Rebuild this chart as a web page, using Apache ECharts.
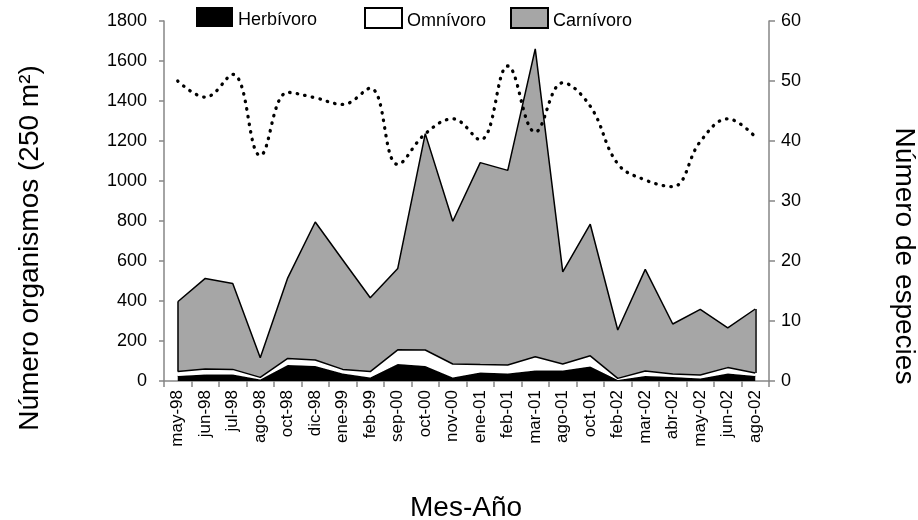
<!DOCTYPE html>
<html>
<head>
<meta charset="utf-8">
<script src="https://cdn.jsdelivr.net/npm/echarts@6/dist/echarts.min.js"></script>
<style>
html,body{margin:0;padding:0;background:#fff;}
#chart{width:918px;height:520px;}
</style>
</head>
<body>
<div id="chart"></div>
<script>
const categories = ['may-98','jun-98','jul-98','ago-98','oct-98','dic-98','ene-99','feb-99','sep-00','oct-00','nov-00','ene-01','feb-01','mar-01','ago-01','oct-01','feb-02','mar-02','abr-02','may-02','jun-02','ago-02'];
const herbivoro = [25,33,33,8,80,75,38,18,85,75,18,42,38,53,53,72,5,25,20,12,38,25];
const omnivoro = [22,27,25,10,33,30,20,29,71,80,67,40,42,68,32,54,8,25,15,18,29,15];
const carnivoro = [349,453,430,98,403,690,547,369,407,1082,714,1010,973,1540,461,658,242,508,250,328,199,320];
const especies = [50,47.3,51.1,37.6,48.1,47.2,46.1,48.8,36.1,41.2,43.7,40.2,52.5,41.5,49.7,45.8,36.2,33.5,32.4,39.9,43.7,40.7];
const leftTicks = {min:0, max:1800, interval:200};
const rightTicks = {min:0, max:60, interval:10};
const titles = {x:'Mes-Año', left:'Número organismos (250 m²)', right:'Número de especies'};

const FONT = 'Liberation Sans, Arial, sans-serif';
const axisGray = '#868686';

// edge outlines of the carnivore area at the first and last month (derived from the data)
const lastI = categories.length - 1;
const lowerAt = i => herbivoro[i] + omnivoro[i];
const upperAt = i => herbivoro[i] + omnivoro[i] + carnivoro[i];
const edgeLines = [0, lastI].map(i => [
  {coord: [categories[i], lowerAt(i)]},
  {coord: [categories[i], upperAt(i)]}
]);

const chart = echarts.init(document.getElementById('chart'), null, {renderer:'canvas'});

function legendFor(name, left, style){
  return {
    left: left, top: 7, padding: 0, itemWidth: 37, itemHeight: 20, icon: 'rect',
    formatter: '{t|{name}}',
    textStyle: {fontSize: 18, color: '#000', fontFamily: FONT,
      rich: {t: {fontSize: 18, color: '#000', fontFamily: FONT, padding: [7, 0, 0, 0]}}},
    data: [{name: name, icon: 'rect', itemStyle: style}]
  };
}

const option = {
  animation: false,
  backgroundColor: '#fff',
  textStyle: {fontFamily: FONT},
  grid: {left: 164, right: 149, top: 21, bottom: 139},
  legend: [
    legendFor('Herbívoro', 196, {color:'#000', borderColor:'#000', borderWidth:0}),
    legendFor('Omnívoro', 364, {color:'#fff', borderColor:'#000', borderWidth:2}),
    legendFor('Carnívoro', 510, {color:'#a6a6a6', borderColor:'#000', borderWidth:2})
  ],
  graphic: [
    {type:'text', x: 466, y: 508, style:{text: titles.x, font: '28px "Liberation Sans", Arial', fill:'#000', align:'center', verticalAlign:'middle'}},
    {type:'text', x: 30, y: 248, rotation: Math.PI/2, style:{text: titles.left, font: '28px "Liberation Sans", Arial', fill:'#000', align:'center', verticalAlign:'middle'}},
    {type:'text', x: 904, y: 256, rotation: -Math.PI/2, style:{text: titles.right, font: '28px "Liberation Sans", Arial', fill:'#000', align:'center', verticalAlign:'middle'}}
  ],
  xAxis: {
    type: 'category', data: categories, boundaryGap: true,
    axisLine: {lineStyle: {color: axisGray, width: 1.5}},
    axisTick: {show: true, interval: 0, length: 6, lineStyle: {color: axisGray, width: 1.5}},
    axisLabel: {rotate: 90, interval: 0, fontSize: 17, color: '#000', margin: 9, fontFamily: FONT}
  },
  yAxis: [
    {
      type: 'value', position: 'left', min: leftTicks.min, max: leftTicks.max, interval: leftTicks.interval,
      axisLine: {show: true, lineStyle: {color: axisGray, width: 1.5}},
      axisTick: {show: true, length: 5, lineStyle: {color: axisGray, width: 1.5}},
      splitLine: {show: false},
      axisLabel: {fontSize: 18, color: '#000', margin: 17, fontFamily: FONT, formatter: v => String(v)}
    },
    {
      type: 'value', position: 'right', min: rightTicks.min, max: rightTicks.max, interval: rightTicks.interval,
      axisLine: {show: true, lineStyle: {color: axisGray, width: 1.5}},
      axisTick: {show: true, length: 6, lineStyle: {color: axisGray, width: 1.5}},
      splitLine: {show: false},
      axisLabel: {fontSize: 18, color: '#000', margin: 12, fontFamily: FONT, formatter: v => String(v)}
    }
  ],
  series: [
    {
      name: 'Herbívoro', type: 'line', stack: 'total', data: herbivoro, yAxisIndex: 0,
      showSymbol: false, symbol: 'none',
      lineStyle: {color: '#000', width: 1},
      itemStyle: {color: '#000'},
      areaStyle: {color: '#000', opacity: 1},
      z: 2
    },
    {
      name: 'Omnívoro', type: 'line', stack: 'total', data: omnivoro, yAxisIndex: 0,
      showSymbol: false, symbol: 'none',
      lineStyle: {color: '#000', width: 1.5},
      itemStyle: {color: '#fff'},
      areaStyle: {color: '#fff', opacity: 1},
      z: 3
    },
    {
      name: 'Carnívoro', type: 'line', stack: 'total', data: carnivoro, yAxisIndex: 0,
      showSymbol: false, symbol: 'none',
      lineStyle: {color: '#000', width: 1.5},
      itemStyle: {color: '#a6a6a6'},
      areaStyle: {color: '#a6a6a6', opacity: 1},
      markLine: {
        silent: true, symbol: ['none', 'none'], label: {show: false},
        lineStyle: {color: '#000', width: 1.5, type: 'solid'},
        data: edgeLines
      },
      z: 1
    },
    {
      name: 'Especies', type: 'line', data: especies, yAxisIndex: 1,
      showSymbol: false, symbol: 'none', smooth: 0.4,
      lineStyle: {color: '#000', width: 3.3, type: [0.5, 7.2], cap: 'round'},
      itemStyle: {color: '#000'},
      z: 5
    }
  ]
};
chart.setOption(option);
</script>
</body>
</html>
